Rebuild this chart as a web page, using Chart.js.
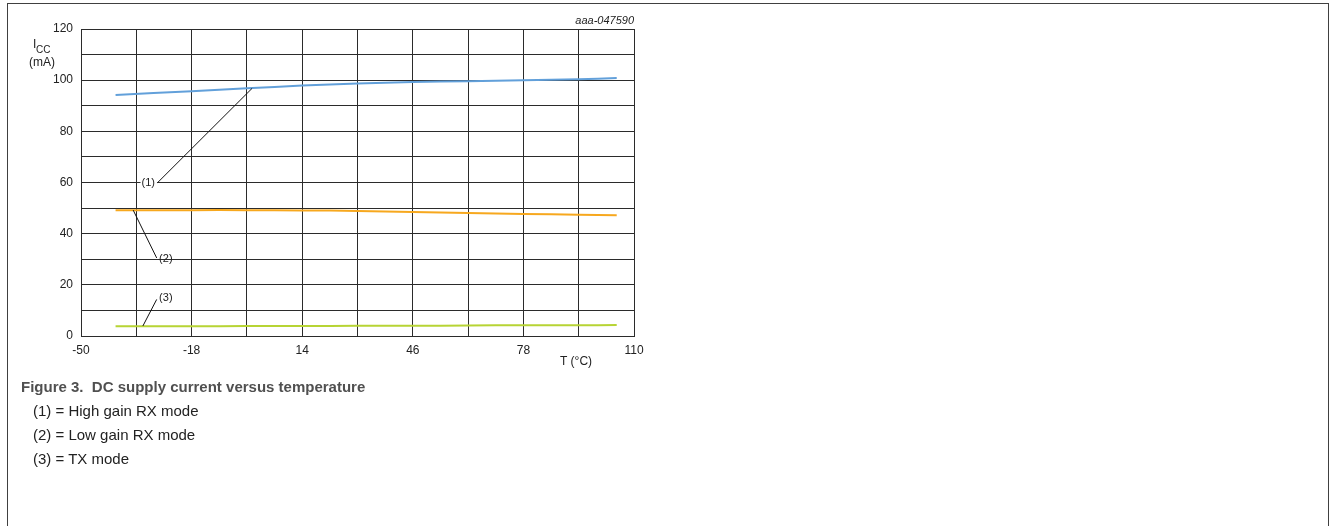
<!DOCTYPE html>
<html>
<head>
<meta charset="utf-8">
<script src="https://cdn.jsdelivr.net/npm/chart.js@4.4.1/dist/chart.umd.min.js"></script>
<style>
body { margin: 0; background: #fff; font-family: "Liberation Sans", Arial, sans-serif; }
#wrap { position: relative; width: 1330px; height: 526px; overflow: hidden; }
#frame { position: absolute; left: 7px; top: 3px; width: 1322px; height: 600px; border: 1px solid #404040; box-sizing: border-box; }
#chart { position: absolute; left: 0; top: 0; }
.caption { position: absolute; left: 21px; top: 375px; font-weight: bold; font-size: 15px; line-height: 24px; color: #505050; white-space: pre; }
.note { position: absolute; left: 33px; font-size: 15px; line-height: 24px; color: #222; }
</style>
</head>
<body>
<div id="wrap">
  <div id="frame"></div>
  <canvas id="chart" width="1330" height="526"></canvas>
  <div class="caption">Figure 3.  DC supply current versus temperature</div>
  <div class="note" style="top:399px">(1) = High gain RX mode</div>
  <div class="note" style="top:423px">(2) = Low gain RX mode</div>
  <div class="note" style="top:447px">(3) = TX mode</div>
</div>
<script>
// temperature (°C) and supply current (mA)
const temps = [-40, -18, -2, 14, 30, 46, 62, 78, 94, 105];
const highGainRx = [94.2, 95.7, 96.8, 97.9, 98.7, 99.3, 99.6, 100.0, 100.4, 100.8];
const lowGainRx = [49.2, 49.2, 49.2, 49.1, 48.9, 48.5, 48.1, 47.7, 47.4, 47.2];
const txMode = [3.8, 3.8, 3.9, 3.9, 4.0, 4.0, 4.1, 4.2, 4.2, 4.3];

const seriesLabels = ['(1)', '(2)', '(3)'];
const figureId = 'aaa-047590';

function pts(ys) {
    return temps.map((t, i) => ({x: t, y: ys[i]}));
}

// leader lines: from label end to the curve, in data units
const callouts = [
    {text: seriesLabels[0], align: 'right', tx: -28.6, ty: 60, from: [-27.8, 60], to: [-0.5, 96.8], boxed: true},
    {text: seriesLabels[1], align: 'left', tx: -27.4, ty: 30, from: [-28.1, 30.5], to: [-34.9, 49.2]},
    {text: seriesLabels[2], align: 'left', tx: -27.4, ty: 15, from: [-28.1, 14.3], to: [-32.1, 3.9]}
];

const annotate = {
    id: 'annotate',
    afterDatasetsDraw(chart) {
        const ctx = chart.ctx;
        const x = chart.scales.x, y = chart.scales.y;
        const area = chart.chartArea;
        ctx.save();
        ctx.fillStyle = '#222';

        ctx.font = 'italic 11px "Liberation Sans"';
        ctx.textAlign = 'right';
        ctx.textBaseline = 'middle';
        ctx.fillText(figureId, area.right, 21);

        // y title: I_CC (mA)
        ctx.textAlign = 'left';
        ctx.font = '12px "Liberation Sans"';
        ctx.fillText('I', 33, 45);
        ctx.font = '10px "Liberation Sans"';
        ctx.fillText('CC', 36, 50);
        ctx.font = '12px "Liberation Sans"';
        ctx.textAlign = 'center';
        ctx.fillText('(mA)', 42, 63);

        ctx.fillText('T (°C)', 576, 362);

        ctx.font = '11px "Liberation Sans"';
        callouts.forEach(c => {
            const px = x.getPixelForValue(c.tx), py = y.getPixelForValue(c.ty);
            ctx.textAlign = c.align;
            if (c.boxed) {
                const w = ctx.measureText(c.text).width;
                ctx.fillStyle = '#fff';
                ctx.fillRect(px - w - 1, py - 6, w + 3, 12);
                ctx.fillStyle = '#222';
            }
            ctx.fillText(c.text, px, py);
            ctx.beginPath();
            ctx.strokeStyle = '#111';
            ctx.lineWidth = 1;
            ctx.moveTo(x.getPixelForValue(c.from[0]), y.getPixelForValue(c.from[1]));
            ctx.lineTo(x.getPixelForValue(c.to[0]), y.getPixelForValue(c.to[1]));
            ctx.stroke();
        });
        ctx.restore();
    }
};

Chart.defaults.font.family = '"Liberation Sans", Arial, sans-serif';
Chart.defaults.font.size = 12;
Chart.defaults.color = '#222';

new Chart(document.getElementById('chart'), {
    type: 'line',
    data: {
        datasets: [
            {data: pts(highGainRx), borderColor: 'rgb(98,160,218)', borderWidth: 2, pointRadius: 0, tension: 0.3},
            {data: pts(lowGainRx), borderColor: 'rgb(247,168,30)', borderWidth: 2, pointRadius: 0, tension: 0.3},
            {data: pts(txMode), borderColor: 'rgb(183,212,52)', borderWidth: 2, pointRadius: 0, tension: 0.3}
        ]
    },
    options: {
        responsive: false,
        animation: false,
        layout: {padding: {left: 41, right: 696, top: 29, bottom: 170}},
        plugins: {legend: {display: false}, tooltip: {enabled: false}},
        scales: {
            x: {
                type: 'linear',
                min: -50,
                max: 110,
                afterFit: s => { s.height = 20; },
                grid: {color: '#2b2b2b', lineWidth: 1, drawTicks: false},
                border: {color: '#2b2b2b'},
                ticks: {
                    stepSize: 16,
                    autoSkip: false,
                    maxRotation: 0,
                    padding: 7,
                    callback: (v, i) => i % 2 === 0 ? v : ''
                }
            },
            y: {
                min: 0,
                max: 120,
                afterFit: s => { s.width = 40; },
                grid: {color: '#2b2b2b', lineWidth: 1, drawTicks: false},
                border: {color: '#2b2b2b'},
                ticks: {
                    stepSize: 10,
                    autoSkip: false,
                    padding: 8,
                    callback: v => v % 20 === 0 ? v : ''
                }
            }
        }
    },
    plugins: [annotate]
});
</script>
</body>
</html>
